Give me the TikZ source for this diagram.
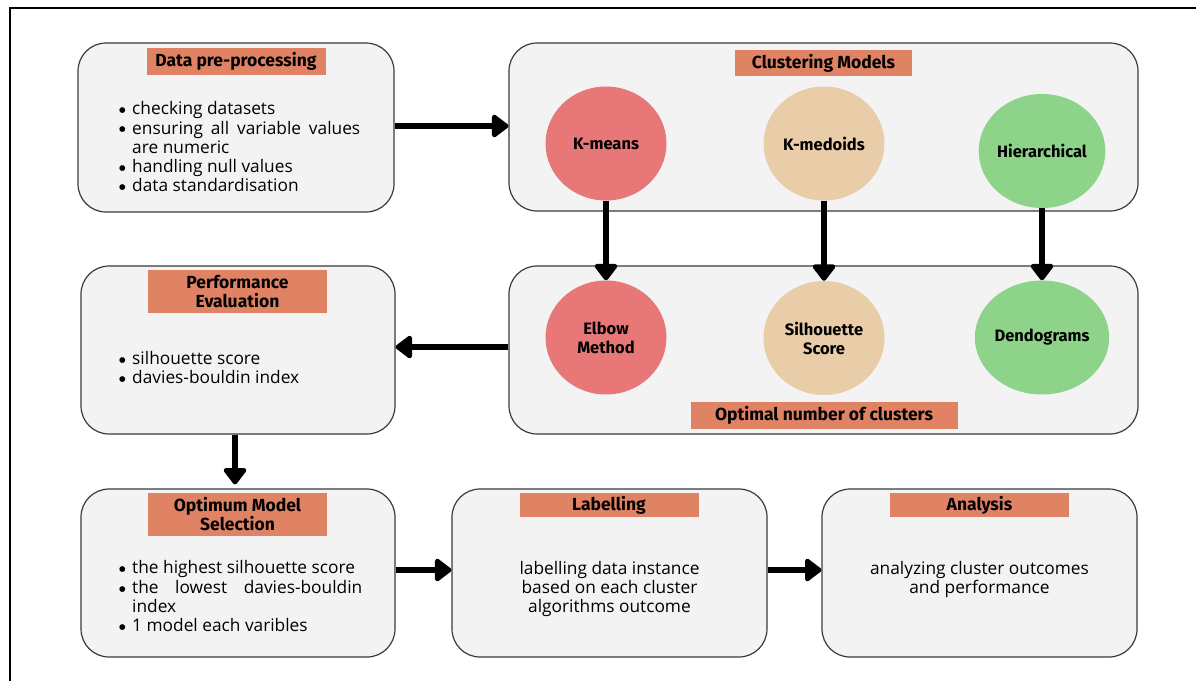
\documentclass[tikz,border=0pt]{standalone}
\usepackage{fontspec}
\setmainfont{Open Sans}
\newfontfamily\titlefont{Fira Sans}
\newfontfamily\dejavu{DejaVu Sans}
\usetikzlibrary{arrows.meta,shapes.geometric}
\definecolor{boxgray}{HTML}{F3F3F3}
\definecolor{boxline}{HTML}{3A3A3A}
\definecolor{salmon}{HTML}{E08264}
\definecolor{cred}{HTML}{E87878}
\definecolor{cbeige}{HTML}{E9CCA8}
\definecolor{cgreen}{HTML}{8DD38A}
\newcommand\bul{\raisebox{2.2pt}{\dejavu\fontsize{7.5}{8}\selectfont ●}}
\tikzset{
  box/.style={draw=boxline, fill=boxgray, line width=1.2pt, rounded corners=28pt, inner sep=0pt},
  ttl/.style={fill=salmon, inner sep=0pt, align=center, font=\titlefont\bfseries\fontsize{17.5}{19}\selectfont},
  circ/.style={ellipse, inner sep=0pt, minimum width=121pt, minimum height=114pt, align=center, font=\titlefont\bfseries\fontsize{16.5}{19}\selectfont},
  body/.style={inner sep=0pt, font=\fontsize{17.3}{19.3}\selectfont},
  arr/.style={line width=5.5pt, -{Triangle[length=18pt,width=26pt,round]}},
}
\begin{document}
\begin{tikzpicture}[x=1pt,y=-1pt]
\useasboundingbox (0,0) rectangle (1196,681);
\draw[line width=2.5pt] (10,681) -- (10,8) -- (1196,8);

% boxes
\node[box, minimum width=316pt, minimum height=169pt] (pre) at (236,127.5) {};
\node[box, minimum width=629pt, minimum height=168pt] (clus) at (823.5,127) {};
\node[box, minimum width=314pt, minimum height=168pt] (perf) at (238,350) {};
\node[box, minimum width=629pt, minimum height=168pt] (optn) at (823.5,350) {};
\node[box, minimum width=314pt, minimum height=168pt] (opt) at (238,573) {};
\node[box, minimum width=315pt, minimum height=168pt] (lab) at (609.5,573) {};
\node[box, minimum width=315pt, minimum height=168pt] (ana) at (979.5,573) {};

% titles
\node[ttl, minimum width=179pt, minimum height=27pt] (t1) at (236,61.5) {Data pre-processing};
\node[ttl, minimum width=177pt, minimum height=26pt] (t2) at (823.5,63) {Clustering Models};
\node[ttl, minimum width=179pt, minimum height=43pt] (t3) at (237.5,291.5) {Performance\\Evaluation};
\node[ttl, minimum width=267pt, minimum height=27pt] (t4) at (824,415.5) {Optimal number of clusters};
\node[ttl, minimum width=179pt, minimum height=43pt] (t5) at (237.5,514.5) {Optimum Model\\Selection};
\node[ttl, minimum width=179pt, minimum height=24pt] (t6) at (609,505) {Labelling};
\node[ttl, minimum width=179pt, minimum height=24pt] (t7) at (979.5,505) {Analysis};

% circles
\node[circ, fill=cred] (km) at (606,143.5) {K-means};
\node[circ, fill=cbeige] (kmed) at (824,143.5) {K-medoids};
\node[circ, fill=cgreen] (hier) at (1042,151) {Hierarchical};
\node[circ, fill=cred] (elb) at (606,337.5) {Elbow\\Method};
\node[circ, fill=cbeige] (sil) at (824,338) {Silhouette\\Score};
\node[circ, fill=cgreen] (den) at (1042,337.5) {Dendograms};

% texts
\node[body, anchor=west] (b1) at (119,149.5) {\begin{tabular}{@{}l@{\hspace{6.5pt}}l@{}}
\bul & checking datasets\\
\bul & \makebox[228pt][s]{ensuring all variable values}\\
 & are numeric\\
\bul & handling null values\\
\bul & data standardisation
\end{tabular}};
\node[body, anchor=west] (b2) at (119,370) {\begin{tabular}{@{}l@{\hspace{6.5pt}}l@{}}
\bul & silhouette score\\
\bul & davies-bouldin index
\end{tabular}};
\node[body, anchor=west] (b3) at (119,599) {\begin{tabular}{@{}l@{\hspace{6.5pt}}l@{}}
\bul & the highest silhouette score\\
\bul & \makebox[230pt][s]{the lowest davies-bouldin}\\
 & index\\
\bul & 1 model each varibles
\end{tabular}};
\node[body, align=center] (b4) at (609.5,589) {labelling data instance\\based on each cluster\\algorithms outcome};
\node[body, align=center] (b5) at (979.5,579.5) {analyzing cluster outcomes\\and performance};

% connectors
\draw[arr] ([yshift=1.5pt]pre.east) -- ([yshift=1.5pt]pre.east -| clus.west);
\draw[arr] (km.south) -- (elb.north);
\draw[arr] (kmed.south) -- (sil.north);
\draw[arr] (hier.south) -- (den.north);
\draw[arr] ([yshift=3pt]optn.west) -- ([yshift=3pt]optn.west -| perf.east);
\draw[arr, shorten >=4pt] ([xshift=-3pt]perf.south) -- ([xshift=-3pt]perf.south |- opt.north);
\draw[arr] ([yshift=3pt]opt.east) -- ([yshift=3pt]opt.east -| lab.west);
\draw[arr] ([yshift=3pt]lab.east) -- ([yshift=3pt]lab.east -| ana.west);
\end{tikzpicture}
\end{document}
